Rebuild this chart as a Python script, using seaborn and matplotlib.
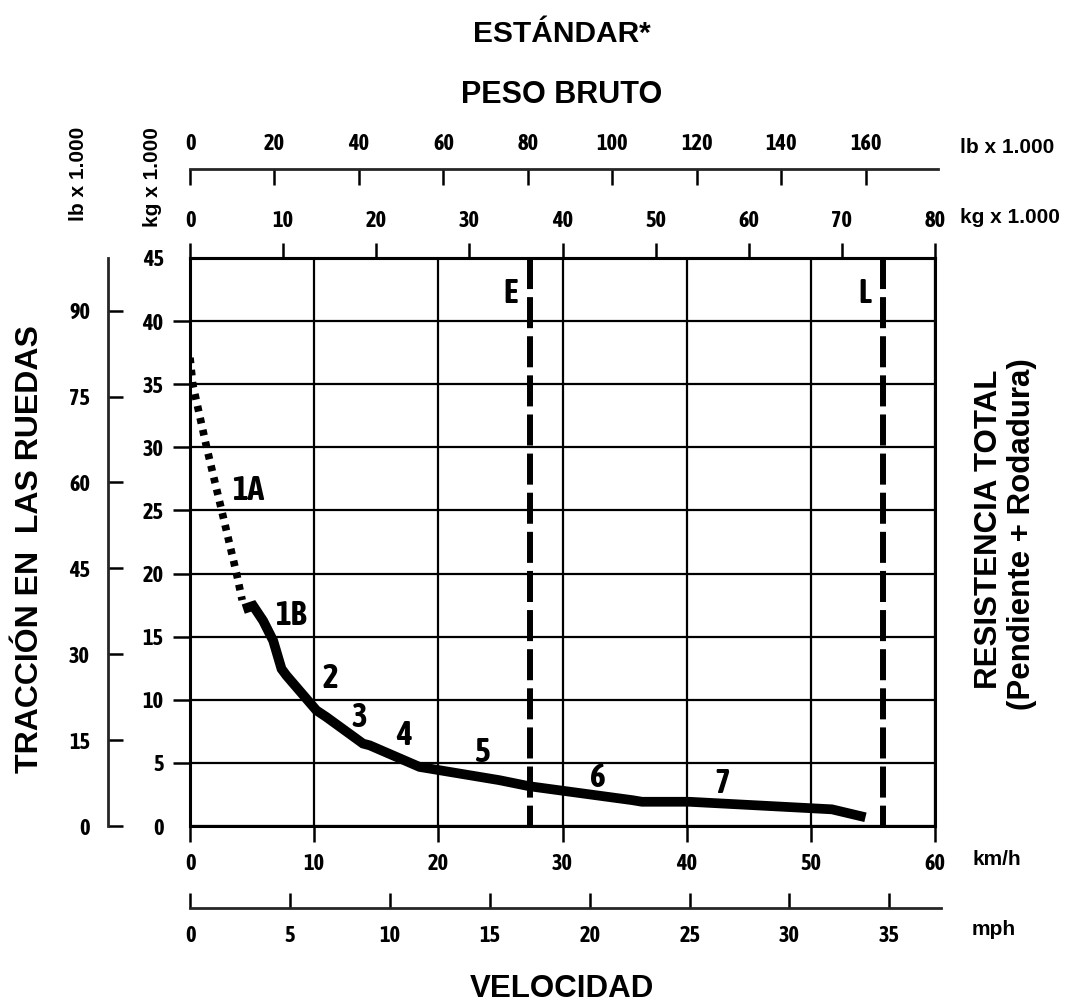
import os
import matplotlib
matplotlib.use("Agg")
import matplotlib.pyplot as plt
from matplotlib import font_manager as fm
import pandas as pd
import seaborn as sns

# Rimpull curve, gear 1A (converter range, dotted): speed in km/h, rimpull in kg x 1.000
gear1a_speed = [0.0, 0.22, 1.34, 2.55, 3.75, 4.2]
gear1a_pull = [37.1, 35.0, 30.0, 25.0, 20.0, 17.9]

# Rimpull curve, gears 1B to 7 (solid)
gear_speed = [4.29, 5.09, 5.89, 6.70, 7.37, 7.77, 10.18, 10.99, 13.93, 14.47,
              18.49, 19.29, 24.92, 27.33, 35.6, 36.4, 40.19, 51.7, 54.4]
gear_pull = [17.18, 17.44, 16.26, 14.68, 12.45, 11.92, 9.16, 8.63, 6.53, 6.39,
             4.68, 4.55, 3.63, 3.15, 2.05, 1.92, 1.92, 1.32, 0.69]

# Gear names written next to the curve
gear_labels = ["1A", "1B", "2", "3", "4", "5", "6", "7"]

# Gross weight markers: empty (E) and loaded (L), kg x 1.000
weight_labels = ["E", "L"]
weight_kg = [36.5, 74.4]

# Axis ticks
kmh_ticks = [0, 10, 20, 30, 40, 50, 60]
mph_ticks = [0, 5, 10, 15, 20, 25, 30, 35]
kg_weight_ticks = [0, 10, 20, 30, 40, 50, 60, 70, 80]
lb_weight_ticks = [0, 20, 40, 60, 80, 100, 120, 140, 160]
kg_pull_ticks = [0, 5, 10, 15, 20, 25, 30, 35, 40, 45]
lb_pull_ticks = [0, 15, 30, 45, 60, 75, 90]

KG_PER_KMH = 80 / 60          # top weight scale spans the same width as 0-60 km/h
LB_PER_KG = 2.20462
KMH_PER_MPH = 1.609344

WIDE = ["Liberation Sans", "DejaVu Sans"]


def _weight(f):
    if isinstance(f.weight, int):
        return f.weight
    return {"bold": 700, "heavy": 800, "black": 900, "semibold": 600,
            "demibold": 600}.get(str(f.weight).lower(), 400)


def condensed_bold_file():
    """Pick a bold condensed face for numerals, if one is installed."""
    ranked = []
    for f in fm.fontManager.ttflist:
        base = os.path.basename(f.fname)
        stretch = str(f.stretch).lower()
        narrow = ("Narrow" in f.name or "Condensed" in f.name
                  or "Condensed" in base or "Narrow" in base
                  or stretch in ("condensed", "semi-condensed"))
        if not narrow or f.style != "normal" or _weight(f) < 600:
            continue
        if "Extra" in base or "Ultra" in base or "extra" in stretch:
            continue
        score = 0
        if "Liberation Sans Narrow" in f.name:
            score += 50
        if _weight(f) == 700:
            score += 5
        if "SemiCondensed" in base or stretch == "semi-condensed":
            score -= 5
        if _weight(f) > 750:
            score -= 3
        if "Mono" in f.name or "Serif" in f.name or "CJK" in f.name:
            score -= 40
        ranked.append((score, base, f.fname))
    if ranked:
        ranked.sort(key=lambda t: (-t[0], t[1]))
        return ranked[0][2]
    return None


_cond = condensed_bold_file()


def num_font(size):
    if _cond:
        return fm.FontProperties(fname=_cond, size=size)
    return fm.FontProperties(family=WIDE, weight="bold", size=size)


sns.set_theme(style="white")
plt.rcParams["font.family"] = WIDE
plt.rcParams["font.weight"] = "bold"
plt.rcParams["text.color"] = "black"
plt.rcParams["xtick.color"] = "black"
plt.rcParams["ytick.color"] = "black"

W, H = 1071, 1005
fig = plt.figure(figsize=(W / 100, H / 100), dpi=100)
fig.patch.set_facecolor("white")
ax = fig.add_axes([190 / W, 1 - 826 / H, 745 / W, 568 / H])
ax.set_facecolor("white")
ax.set_xlim(0, 60)
ax.set_ylim(0, 45)

# grid and frame
ax.set_xticks(kmh_ticks)
ax.set_yticks(kg_pull_ticks)
ax.grid(True, color="black", lw=1.6)
for s in ax.spines.values():
    s.set_visible(True)
    s.set_color("black")
    s.set_linewidth(2.2)

TICK_FS = 16
ax.tick_params(axis="x", direction="out", length=11.5, width=1.8, pad=8, bottom=True)
ax.tick_params(axis="y", direction="out", length=12, width=1.8, pad=7, left=True)
yt = ax.yaxis.get_major_ticks()
yt[0].tick1line.set_visible(False)
yt[-1].tick1line.set_visible(False)

# curves
df1a = pd.DataFrame({"speed": gear1a_speed, "pull": gear1a_pull})
df = pd.DataFrame({"speed": gear_speed, "pull": gear_pull})
sns.lineplot(data=df1a, x="speed", y="pull", ax=ax, sort=False, estimator=None,
             color="black", linewidth=5.5, linestyle=(0, (0.75, 0.85)),
             dash_capstyle="butt", zorder=5)
sns.lineplot(data=df, x="speed", y="pull", ax=ax, sort=False, estimator=None,
             color="black", linewidth=7, solid_joinstyle="miter",
             solid_capstyle="butt", zorder=5)
ax.set_xlabel("")
ax.set_ylabel("")

LABEL_FS = 24

# gross weight limits
for name, kg in zip(weight_labels, weight_kg):
    x = kg / KG_PER_KMH
    ax.vlines(x, 45, 0, colors="black", lw=4.3,
              linestyles=[(0, (5.2, 1.35))], zorder=4)
    ax.annotate(name, xy=(x, 41.43), xytext=(-8.5, 0), textcoords="offset points",
                ha="right", va="baseline", fontproperties=num_font(LABEL_FS))

# gear names
gear_label_pos = [(4.66, 25.83), (8.12, 15.92), (11.33, 10.93), (13.59, 7.84),
                  (17.28, 6.42), (23.47, 5.07), (32.88, 3.09), (42.85, 2.61)]
for name, (gx, gy) in zip(gear_labels, gear_label_pos):
    ax.text(gx, gy, name, ha="center", va="baseline",
            fontproperties=num_font(LABEL_FS), zorder=6)

# top: gross weight in kg x 1.000 (on the frame) and lb x 1.000 (above)
ax_kg = ax.secondary_xaxis("top", functions=(lambda v: v * KG_PER_KMH,
                                             lambda v: v / KG_PER_KMH))
ax_kg.set_xticks(kg_weight_ticks)
ax_kg.tick_params(direction="out", length=11, width=1.8, pad=8)
ax_kg.spines["top"].set_linewidth(2.2)

ax_lb = ax.secondary_xaxis((826 - 169) / 568,
                           functions=(lambda v: v * KG_PER_KMH * LB_PER_KG,
                                      lambda v: v / (KG_PER_KMH * LB_PER_KG)))
ax_lb.set_xticks(lb_weight_ticks)
ax_lb.tick_params(direction="in", length=11.5, width=1.8, pad=10)
ax_lb.spines["top"].set_linewidth(2.0)
ax_lb.spines["top"].set_bounds(0, 177)

# bottom: speed in mph
ax_mph = ax.secondary_xaxis(-(908 - 826) / 568,
                            functions=(lambda v: v / KMH_PER_MPH,
                                       lambda v: v * KMH_PER_MPH))
ax_mph.set_xticks(mph_ticks)
ax_mph.tick_params(direction="in", length=11, width=1.8, pad=12)
ax_mph.spines["bottom"].set_linewidth(2.0)
ax_mph.spines["bottom"].set_bounds(0, 37.6)

# left: rimpull in lb x 1.000
ax_lbp = ax.secondary_yaxis(-(190 - 108) / 745,
                            functions=(lambda v: v * LB_PER_KG,
                                       lambda v: v / LB_PER_KG))
ax_lbp.set_yticks(lb_pull_ticks)
ax_lbp.tick_params(direction="in", length=11, width=1.8, pad=13)
ax_lbp.spines["left"].set_linewidth(2.0)

for a in (ax, ax_kg, ax_lb, ax_mph, ax_lbp):
    for lbl in a.get_xticklabels() + a.get_yticklabels():
        lbl.set_fontproperties(num_font(TICK_FS))


def ftext(px, py, s, **kw):
    kw.setdefault("fontweight", "bold")
    kw.setdefault("family", WIDE)
    fig.text(px / W, 1 - py / H, s, **kw)


# titles
ftext(562, 42, "ESTÁNDAR*", ha="center", va="baseline", fontsize=21.5)
ftext(562, 103, "PESO BRUTO", ha="center", va="baseline", fontsize=22)
ftext(562, 997, "VELOCIDAD", ha="center", va="baseline", fontsize=22.5)
ftext(30, 549, "TRACCIÓN EN  LAS RUEDAS", ha="center", va="center",
      rotation=90, fontsize=23)
ftext(989, 529, "RESISTENCIA TOTAL", ha="center", va="center",
      rotation=90, fontsize=22.5)
ftext(1022, 534, "(Pendiente + Rodadura)", ha="center", va="center",
      rotation=90, fontsize=22.5)

# unit labels
ftext(960, 153, "lb x 1.000", ha="left", va="baseline", fontsize=15)
ftext(960, 223, "kg x 1.000", ha="left", va="baseline", fontsize=15)
ftext(972, 865, "km/h", ha="left", va="baseline", fontsize=15)
ftext(972, 935, "mph", ha="left", va="baseline", fontsize=15)
ftext(78, 174, "lb x 1.000", ha="center", va="center", rotation=90, fontsize=15)
ftext(153, 177, "kg x 1.000", ha="center", va="center", rotation=90, fontsize=15)

fig.savefig("out.png", dpi=100, facecolor="white")
